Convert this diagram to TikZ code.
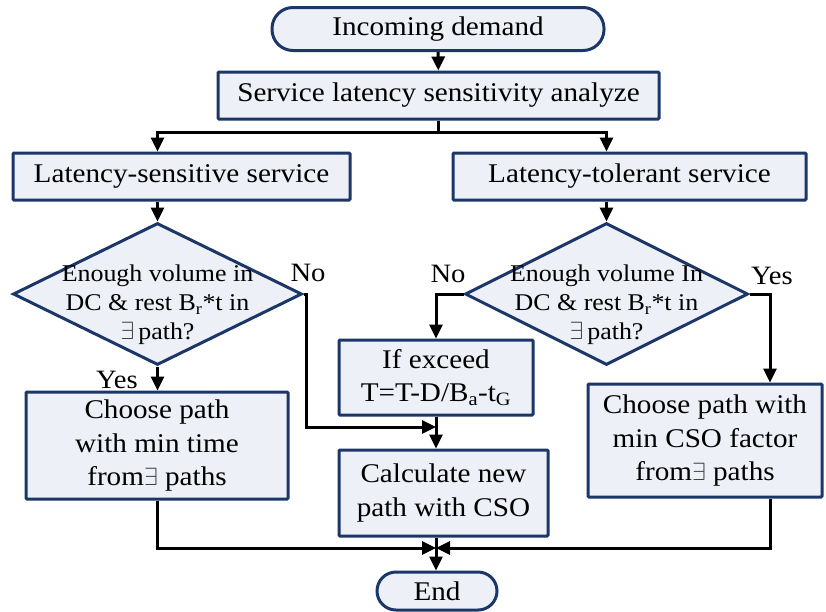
\documentclass[tikz,border=0pt]{standalone}
\usepackage{fontspec}
\setmainfont{Liberation Serif}[FakeStretch=1.08]
\usepackage{xcolor}
\usepackage{tikz}
\usetikzlibrary{arrows.meta,shapes.geometric}
\definecolor{boxline}{HTML}{1C3668}
\definecolor{boxfill}{HTML}{EDF0F6}
\newcommand{\exsym}{\textcolor{black!75}{$\exists$}}

\begin{document}
\begin{tikzpicture}[x=1pt,y=-1pt,
    box/.style={draw=boxline,fill=boxfill,line width=3pt,rounded corners=1pt,align=center,inner sep=0pt,font=\fontsize{27}{33.5}\selectfont},
    term/.style={box,rounded corners=21pt},
    decision/.style={diamond,draw=boxline,fill=boxfill,line width=3pt,inner sep=0pt},
    dtext/.style={align=center,inner sep=0pt,font=\fontsize{24}{29}\selectfont},
    lbl/.style={anchor=base,inner sep=0pt,font=\fontsize{26.5}{30}\selectfont},
    line/.style={line width=3pt},
    arr/.style={line,-{Triangle[length=14pt,width=13pt]}}]
    \useasboundingbox (0,0) rectangle (826,611);

    % Start
    \node[term,minimum width=332pt,minimum height=43pt] (start) at (438,29) {Incoming demand};
    \node[box,minimum width=441pt,minimum height=47pt] (analyze) at (438.5,95.5) {Service latency sensitivity analyze};

    % Two kinds of service
    \node[box,minimum width=337pt,minimum height=47pt] (sens) at (181.5,176.5) {Latency-sensitive service};
    \node[box,minimum width=353pt,minimum height=47pt] (tol) at (629.5,176.5) {Latency-tolerant service};

    % Decisions
    \node[decision,minimum width=289pt,minimum height=142pt] (dec1) at (157.5,294) {};
    \node[dtext] (dec1txt) at ([yshift=-11pt]dec1.center) {Enough volume in\\DC \& rest B\textsubscript{r}*t in\\\exsym\,path?};
    \node[decision,minimum width=283pt,minimum height=142pt] (dec2) at (606.5,294) {};
    \node[dtext] (dec2txt) at ([yshift=-11pt]dec2.center) {Enough volume In\\DC \& rest B\textsubscript{r}*t in\\\exsym\,path?};

    % Path choice
    \node[box,minimum width=262pt,minimum height=107pt] (lchoose) at (157,445.5) {Choose path\\with min time\\from\exsym\ paths};
    \node[box,minimum width=194pt,minimum height=75pt] (ifex) at (436,377.5) {If exceed\\T=T-D/B\textsubscript{a}-t\textsubscript{G}};
    \node[box,minimum width=209pt,minimum height=86pt] (calc) at (443.5,493) {Calculate new\\path with CSO};
    \node[box,minimum width=234pt,minimum height=113pt] (rchoose) at (705,440.5) {Choose path with\\min CSO factor\\from\exsym\ paths};

    % End
    \node[term,minimum width=120pt,minimum height=38pt,rounded corners=19pt] (finish) at (437,591) {End};

    % Labels
    \node[lbl] (yesL) at (117,388) {Yes};
    \node[lbl] (noL) at (308,281) {No};
    \node[lbl] (noR) at (448,282) {No};
    \node[lbl] (yesR) at (772,284) {Yes};

    % Connectors
    \coordinate (split) at (438.5,132);
    \coordinate (lno) at (306,294);
    \coordinate (rcol) at (770,294);
    \coordinate (join) at (436,427);
    \coordinate (merge) at (436,548);
    \draw[arr] (start) -- (analyze);
    \draw[line] (analyze.south) -- (split);
    \draw[arr] (split) -| (sens.north -| dec1.north);
    \draw[arr] (split) -| (tol.north -| dec2.north);
    \draw[arr] (sens.south -| dec1.north) -- (dec1.north);
    \draw[arr] (tol.south -| dec2.north) -- (dec2.north);
    \draw[arr] (dec1.south) -- (lchoose.north -| dec1.south);
    \draw[arr] (dec1.east) -- (lno) |- (join);
    \draw[arr] (dec2.west) -| (ifex.north);
    \draw[arr] (dec2.east) -- (rcol) -- (rchoose.north -| rcol);
    \draw[arr] (ifex.south) -- (ifex.south |- calc.north);
    \draw[arr] (lchoose.south) |- (merge);
    \draw[arr] (rchoose.south -| rcol) |- (merge);
    \draw[arr] (calc.south -| merge) -- (finish.north -| merge);
\end{tikzpicture}
\end{document}
